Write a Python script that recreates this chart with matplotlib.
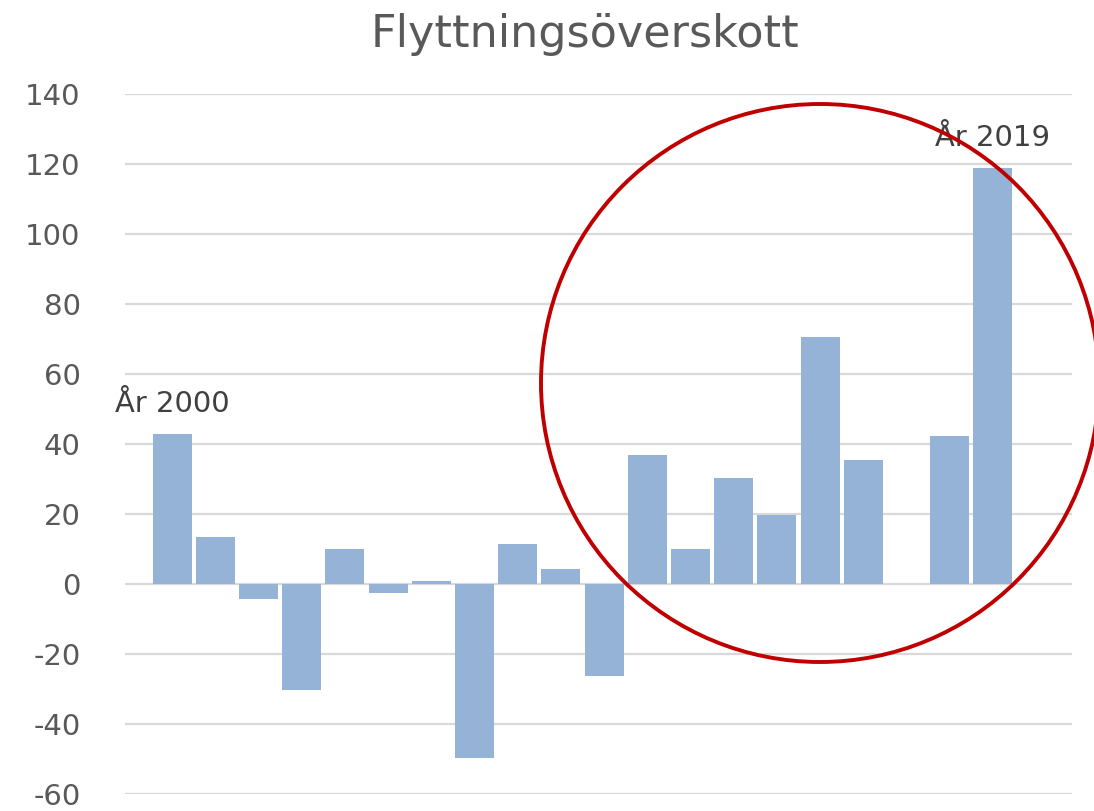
import numpy as np
import matplotlib
matplotlib.use("Agg")
import matplotlib.pyplot as plt
from matplotlib.patches import Ellipse

# Data, 2000-2019
years = list(range(2000, 2020))
values = [43, 13.3, -4.3, -30.4, 10, -2.6, 0.9, -49.8, 11.4, 4.3,
          -26.2, 37, 10, 30.2, 19.6, 70.6, 35.3, 0, 42.4, 118.9]
y_ticks = [-60, -40, -20, 0, 20, 40, 60, 80, 100, 120, 140]
title = "Flyttningsöverskott"
notes = {2000: "År 2000", 2019: "År 2019"}

W, H = 1094, 811
fig = plt.figure(figsize=(W / 100, H / 100), dpi=100)
ax = fig.add_axes([125 / W, 1 - 794 / H, (1072 - 125) / W, (794 - 94) / H])

x = np.arange(len(years))
ax.bar(x, values, width=0.9, color="#95B3D7", zorder=2)

ax.set_ylim(-60, 140)
ax.set_xlim(-1.09, 20.83)
ax.set_yticks(y_ticks)
ax.set_yticklabels([str(t) for t in y_ticks], fontsize=21, color="#595959")
ax.tick_params(axis="y", length=0, pad=32)
ax.set_xticks([])
ax.grid(axis="y", color="#D9D9D9", linewidth=1.6, zorder=0)
for s in ax.spines.values():
    s.set_visible(False)

# year labels
for yr, txt in notes.items():
    i = years.index(yr)
    ypos = 51.5 if yr == 2000 else 127.5
    ax.text(i, ypos, txt, ha="center", va="center", fontsize=21, color="#404040", zorder=3)

fig.text(585 / W, 1 - 34 / H, title, ha="center", va="center",
         fontsize=32, color="#595959")

# red circle
circ = Ellipse((820 / W, 1 - 383 / H), 558 / W, 558 / H, transform=fig.transFigure,
               fill=False, edgecolor="#C00000", linewidth=2.8, zorder=5)
fig.patches.append(circ)

fig.savefig("out.png", dpi=100)
